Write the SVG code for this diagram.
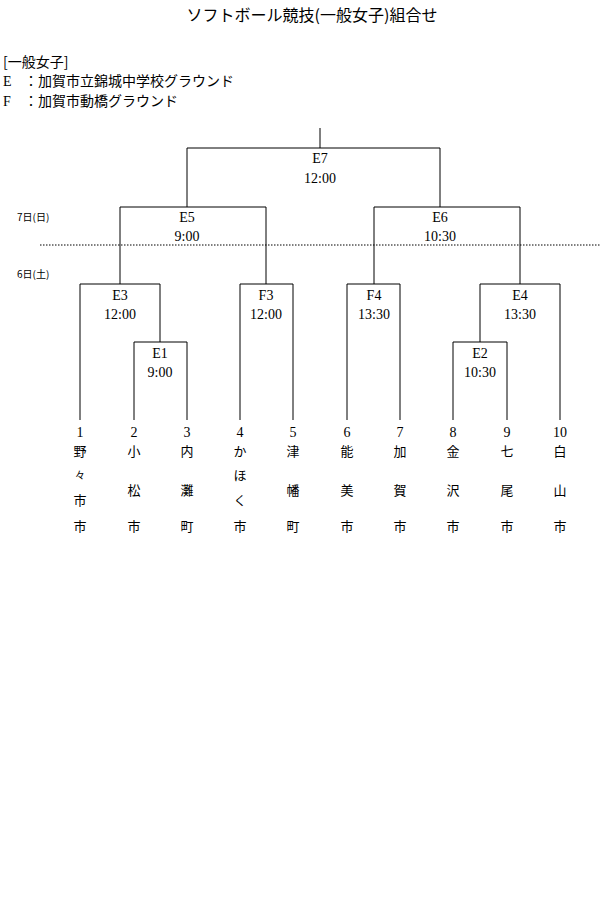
<svg xmlns="http://www.w3.org/2000/svg" width="600" height="900" viewBox="0 0 600 900">
<style>
text{font-family:"Liberation Serif","Noto Sans CJK JP",serif;font-size:14px;fill:#000}
.c{text-anchor:middle}
.j{font-family:"Noto Sans CJK JP",sans-serif;font-size:13px}
.s{font-size:10px}
.l{fill:none;stroke:#000;stroke-width:1}
</style>
<rect width="600" height="900" fill="#fff"/>
<text class="c j" x="312" y="21" style="font-size:16px">ソフトボール競技(一般女子)組合せ</text>
<text class="j" x="3" y="67" style="font-size:14px">[一般女子]</text>
<text x="3" y="86">E<tspan class="j" x="24" style="font-size:14px">：加賀市立錦城中学校グラウンド</tspan></text>
<text x="3" y="106">F<tspan class="j" x="24" style="font-size:14px">：加賀市動橋グラウンド</tspan></text>
<text class="j s" x="17" y="221">7日(日)</text>
<text class="j s" x="17" y="278">6日(土)</text>
<line x1="40" y1="245" x2="600" y2="245" stroke="#000" stroke-dasharray="1.5,1.5"/>
<g id="connectors" class="l">
<path d="M320 128V148M187 207V148H440V207"/>
<path d="M120 284V207H266V284"/>
<path d="M374 284V207H520V284"/>
<path d="M80 420V284H160V342"/>
<path d="M134 420V342H187V420"/>
<path d="M240 420V284H293V420"/>
<path d="M347 420V284H400V420"/>
<path d="M480 342V284H560V420"/>
<path d="M453 420V342H507V420"/>
</g>
<g id="E7"><text class="c" x="320" y="163">E7</text><text class="c" x="320" y="183">12:00</text></g>
<g id="E5"><text class="c" x="187" y="222">E5</text><text class="c" x="187" y="241">9:00</text></g>
<g id="E6"><text class="c" x="440" y="222">E6</text><text class="c" x="440" y="241">10:30</text></g>
<g id="E3"><text class="c" x="120" y="300">E3</text><text class="c" x="120" y="319">12:00</text></g>
<g id="F3"><text class="c" x="266" y="300">F3</text><text class="c" x="266" y="319">12:00</text></g>
<g id="F4"><text class="c" x="374" y="300">F4</text><text class="c" x="374" y="319">13:30</text></g>
<g id="E4"><text class="c" x="520" y="300">E4</text><text class="c" x="520" y="319">13:30</text></g>
<g id="E1"><text class="c" x="160" y="358">E1</text><text class="c" x="160" y="377">9:00</text></g>
<g id="E2"><text class="c" x="480" y="358">E2</text><text class="c" x="480" y="377">10:30</text></g>
<g id="teams" class="c">
<g id="t1"><text class="c" x="80" y="437">1</text><text class="c j" x="80" y="456">野</text><text class="c j" x="80" y="479" style="font-size:10px">々</text><text class="c j" x="80" y="505">市</text><text class="c j" x="80" y="531">市</text></g>
<g id="t2"><text class="c" x="134" y="437">2</text><text class="c j" x="134" y="456">小</text><text class="c j" x="134" y="495">松</text><text class="c j" x="134" y="531">市</text></g>
<g id="t3"><text class="c" x="187" y="437">3</text><text class="c j" x="187" y="456">内</text><text class="c j" x="187" y="495">灘</text><text class="c j" x="187" y="531">町</text></g>
<g id="t4"><text class="c" x="240" y="437">4</text><text class="c j" x="240" y="456">か</text><text class="c j" x="240" y="480">ほ</text><text class="c j" x="240" y="505">く</text><text class="c j" x="240" y="531">市</text></g>
<g id="t5"><text class="c" x="293" y="437">5</text><text class="c j" x="293" y="456">津</text><text class="c j" x="293" y="495">幡</text><text class="c j" x="293" y="531">町</text></g>
<g id="t6"><text class="c" x="347" y="437">6</text><text class="c j" x="347" y="456">能</text><text class="c j" x="347" y="495">美</text><text class="c j" x="347" y="531">市</text></g>
<g id="t7"><text class="c" x="400" y="437">7</text><text class="c j" x="400" y="456">加</text><text class="c j" x="400" y="495">賀</text><text class="c j" x="400" y="531">市</text></g>
<g id="t8"><text class="c" x="453" y="437">8</text><text class="c j" x="453" y="456">金</text><text class="c j" x="453" y="495">沢</text><text class="c j" x="453" y="531">市</text></g>
<g id="t9"><text class="c" x="507" y="437">9</text><text class="c j" x="507" y="456">七</text><text class="c j" x="507" y="495">尾</text><text class="c j" x="507" y="531">市</text></g>
<g id="t10"><text class="c" x="560" y="437">10</text><text class="c j" x="560" y="456">白</text><text class="c j" x="560" y="495">山</text><text class="c j" x="560" y="531">市</text></g>
</g>
</svg>
